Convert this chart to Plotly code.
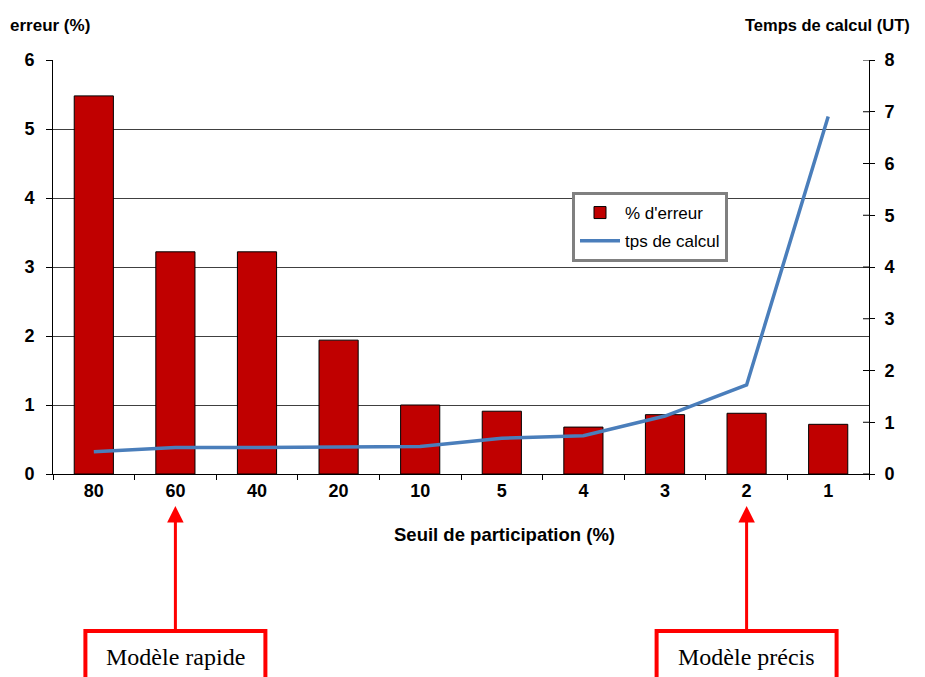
import plotly.graph_objects as go

categories = ["80", "60", "40", "20", "10", "5", "4", "3", "2", "1"]
erreur = [5.48, 3.22, 3.22, 1.94, 1.0, 0.91, 0.68, 0.86, 0.88, 0.72]
tps_calcul = [0.43, 0.51, 0.51, 0.52, 0.53, 0.69, 0.74, 1.12, 1.72, 6.91]
left_ticks = [0, 1, 2, 3, 4, 5, 6]
right_ticks = [0, 1, 2, 3, 4, 5, 6, 7, 8]

OFF = 8  # page body margin
W, H = 925 - OFF, 677 - OFF
# plot area in screen pixels
L, R, T, B = 53, 869, 60, 474


def px(x):
    return (x - L) / (R - L)


def py(y):
    return (B - y) / (B - T)


fig = go.Figure()
fig.add_trace(go.Bar(
    x=categories, y=erreur, name="% d'erreur", legendgroup="a",
    marker=dict(color="#C00000", line=dict(color="black", width=1)),
    width=0.48, yaxis="y",
))
fig.add_trace(go.Scatter(
    x=categories, y=tps_calcul, name="tps de calcul", mode="lines", legendgroup="b",
    line=dict(color="#4A7EBB", width=3.5), yaxis="y2",
))

tick_font = dict(family="Liberation Sans, Arial", size=18, color="black", weight="bold")
fig.update_layout(
    width=W, height=H,
    margin=dict(l=L - OFF, r=W - (R - OFF), t=T - OFF, b=H - (B - OFF)),
    paper_bgcolor="white", plot_bgcolor="white",
    font=dict(family="Liberation Sans, Arial", color="black"),
    showlegend=True,
    legend=dict(
        x=px(572), y=py(192), xanchor="left", yanchor="top",
        bordercolor="#808080", borderwidth=3, bgcolor="white",
        font=dict(family="Liberation Sans, Arial", size=17, color="black"),
        tracegroupgap=3, itemwidth=40,
    ),
    xaxis=dict(
        type="category", categoryorder="array", categoryarray=categories,
        range=[-0.5, len(categories) - 0.5], tickangle=0,
        tickson="boundaries", ticks="outside", ticklen=5,
        tickcolor="black", showline=True, linecolor="black", linewidth=1,
        tickfont=tick_font, showgrid=False,
    ),
    yaxis=dict(
        range=[0, 6], tickvals=left_ticks, ticks="outside", ticklen=6,
        tickcolor="black", showline=True, linecolor="black", linewidth=1,
        gridcolor="#404040", gridwidth=1, zeroline=False,
        tickfont=tick_font, ticklabelstandoff=8,
    ),
    yaxis2=dict(
        range=[0, 8], tickvals=right_ticks, overlaying="y", side="right",
        ticks="outside", ticklen=5, tickcolor="black",
        showline=True, linecolor="black", linewidth=1,
        showgrid=False, zeroline=False,
        tickfont=tick_font, ticklabelstandoff=6,
    ),
)

shapes = []
# inner half of the crossing ticks on the right axis
for v in right_ticks:
    shapes.append(dict(type="line", xref="paper", yref="y2", x0=px(R - 6), x1=1, y0=v, y1=v,
                       line=dict(color="black", width=1)))

title_font = dict(family="Liberation Sans, Arial", size=17, color="black")
annotations = [
    dict(text="<b>erreur (%)</b>", xref="paper", yref="paper", x=px(50), y=py(25),
         xanchor="center", yanchor="middle", showarrow=False, font=title_font),
    dict(text="<b>Temps de calcul (UT)</b>", xref="paper", yref="paper", x=px(912), y=py(25),
         xanchor="right", yanchor="middle", showarrow=False,
         font=dict(family="Liberation Sans, Arial", size=16.5, color="black")),
    dict(text="<b>Seuil de participation (%)</b>", xref="paper", yref="paper", x=px(504), y=py(534),
         xanchor="center", yanchor="middle", showarrow=False,
         font=dict(family="Liberation Sans, Arial", size=18.5, color="black")),
]

models = [("60", "Modèle rapide"), ("2", "Modèle précis")]
box_top = 631
tip = 506
for cat, label in models:
    idx = categories.index(cat)
    cx = L + (idx + 0.5) * (R - L) / len(categories)
    annotations.append(dict(
        x=idx, y=py(tip), xref="x", yref="paper", ax=0, ay=box_top - tip,
        axref="pixel", ayref="pixel", text="", showarrow=True,
        arrowhead=2, arrowsize=1.1, arrowwidth=3, arrowcolor="#FF0000",
    ))
    shapes.append(dict(
        type="path", xref="paper", yref="paper",
        path=f"M {px(cx - 90)},{py(700)} L {px(cx - 90)},{py(box_top)} L {px(cx + 90)},{py(box_top)} L {px(cx + 90)},{py(700)}",
        line=dict(color="#FF0000", width=4),
    ))
    annotations.append(dict(
        text=label, xref="paper", yref="paper", x=px(cx), y=py(657),
        xanchor="center", yanchor="middle", showarrow=False,
        font=dict(family="Liberation Serif, serif", size=24, color="black"),
    ))

fig.update_layout(shapes=shapes, annotations=annotations)
fig.write_html("out.html")
